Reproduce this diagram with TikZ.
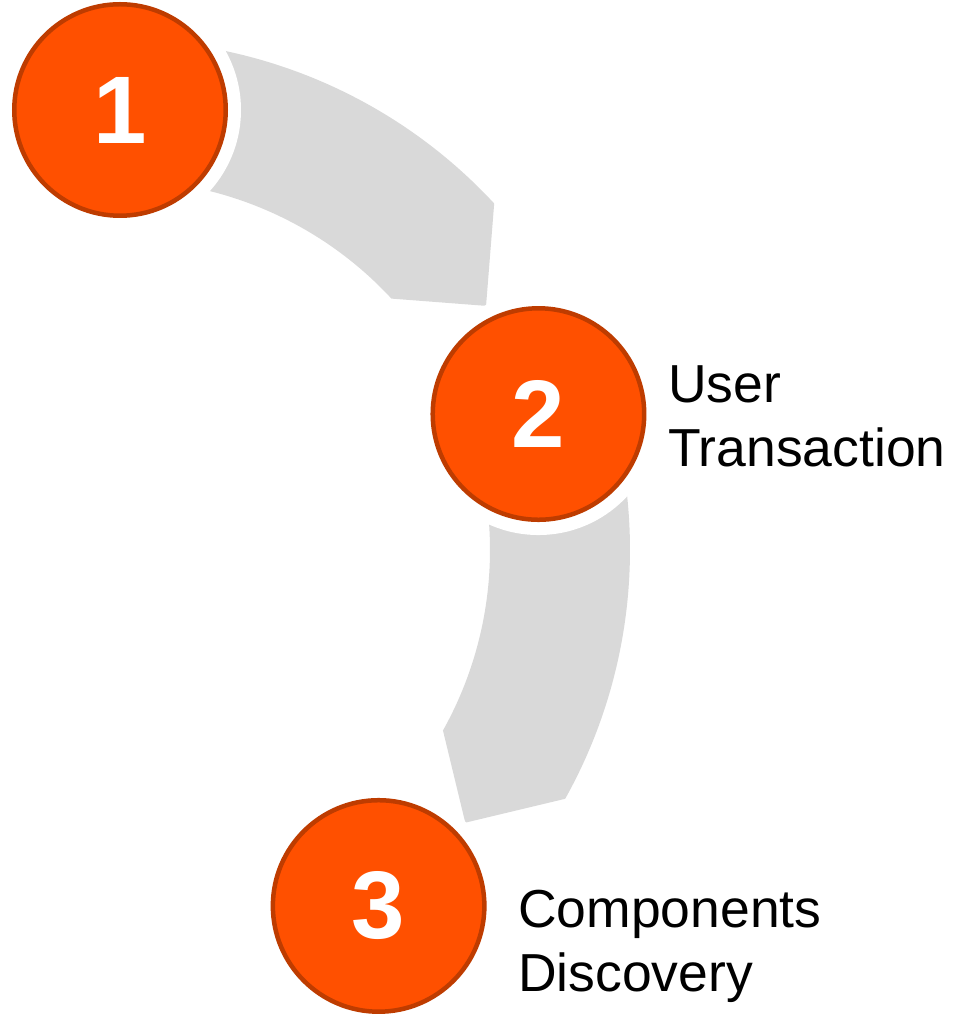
\documentclass[tikz,border=0pt]{standalone}
\usepackage{fontspec}
\setmainfont{Liberation Sans}
\definecolor{stepfill}{RGB}{255,80,0}
\definecolor{stepline}{RGB}{190,60,0}
\definecolor{bandgray}{RGB}{217,217,217}
\tikzset{
  band/.style={fill=bandgray, draw=none},
  halo/.style={fill=white, draw=none},
  stepcircle/.style={circle, fill=stepfill, draw=stepline, line width=4.5pt,
    minimum size=211.5pt, inner sep=0pt, text=white,
    font=\fontsize{96}{96}\selectfont\bfseries},
  steplabel/.style={anchor=base west, align=left, inner sep=0pt, text=black,
    font=\fontsize{53.5}{64}\selectfont}
}
\begin{document}
\begin{tikzpicture}[x=1pt, y=1pt]
\useasboundingbox (0,0) rectangle (956,1015);
\begin{scope}[shift={(120,465)}]
  % grey arc bands
  \fill[band] (95:510) arc[start angle=95, end angle=42.8, radius=510]
     -- (33.7:440) -- (42.8:370) arc[start angle=42.8, end angle=95, radius=370] -- cycle;
  \fill[band] (23:510) arc[start angle=23, end angle=-29.2, radius=510]
     -- (-38.3:440) -- (-29.2:370) arc[start angle=-29.2, end angle=23, radius=370] -- cycle;
  % white halos
  \coordinate (c1) at (90:440);
  \coordinate (c2) at (18:440);
  \coordinate (c3) at (-54:440);
  \fill[halo] (c1) circle (121);
  \fill[halo] (c2) circle (121);
  \fill[halo] (c3) circle (121);
  % step circles
  \node[stepcircle] (n1) at (c1) {1};
  \node[stepcircle] (n2) at (c2) {2};
  \node[stepcircle] (n3) at (c3) {3};
\end{scope}
\node[steplabel] (l2) at (668,548.3) {User\\Transaction};
\node[steplabel] (l3) at (518,23.3) {Components\\Discovery};
\end{tikzpicture}
\end{document}
